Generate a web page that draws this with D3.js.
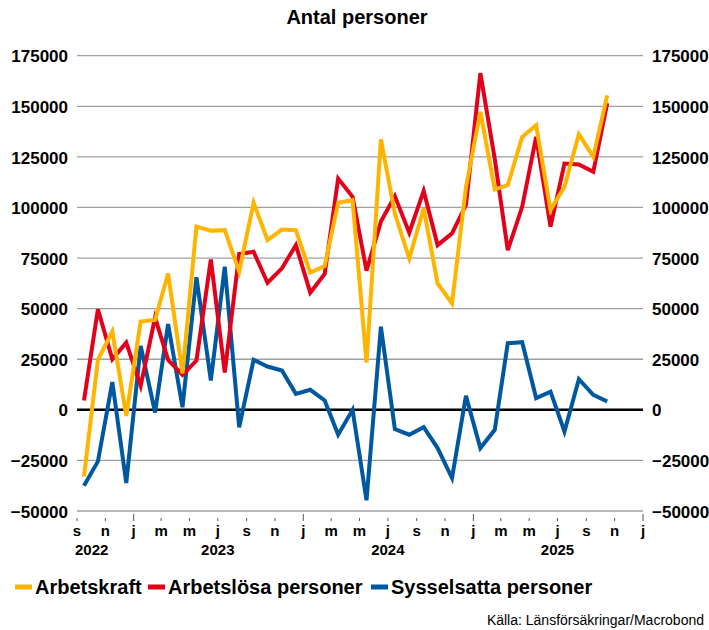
<!DOCTYPE html>
<html>
<head>
<meta charset="utf-8">
<script src="https://cdn.jsdelivr.net/npm/d3@7"></script>
<style>
  body { margin: 0; background: #fff; }
  svg { display: block; font-family: "Liberation Sans", Arial, sans-serif; }
  .tick-label { font-weight: bold; font-size: 17px; fill: #000; }
  .x-label { font-weight: bold; font-size: 15px; fill: #000; }
</style>
</head>
<body>
<svg width="709" height="630"></svg>
<script>
// Monthly change, Sep 2022 - Oct 2025
var firstMonth = [2022, 8];

var arbetskraft = [-33000, 24700, 38700, -3000, 43600, 44400, 67400, 18000, 90500, 88500,
  88800, 68300, 102300, 83900, 89100, 88800, 67800, 71000, 102300, 103600,
  23400, 133600, 97000, 74800, 99500, 62500, 52600, 110000, 147200, 108900,
  111000, 134900, 140600, 98700, 110200, 136200, 125000, 155400];

var arbetslosa = [4600, 49700, 25000, 33200, 11800, 45600, 24700, 17300, 24300, 74300,
  18400, 77000, 78100, 62800, 69900, 81400, 57900, 67100, 114300, 105300,
  68800, 93000, 105600, 87500, 108200, 81400, 87200, 101200, 166400, 124000,
  78900, 100300, 134900, 90500, 121700, 121200, 117600, 151600];

var sysselsatta = [-37500, -25500, 13700, -36200, 31600, -1300, 42400, 1300, 65500, 14500,
  70700, -8600, 24700, 21400, 19400, 7900, 9900, 4600, -12300, 0,
  -44700, 41100, -9500, -12300, -8600, -18900, -33700, 6900, -18900, -9900,
  32900, 33400, 5800, 9000, -10700, 15100, 7400, 4100];

var yTicks = [-50000, -25000, 0, 25000, 50000, 75000, 100000, 125000, 150000, 175000];
var monthLetters = ['j', 'f', 'm', 'a', 'm', 'j', 'j', 'a', 's', 'o', 'n', 'd'];
var years = [2022, 2023, 2024, 2025];

var seriesNames = ['Arbetskraft', 'Arbetslösa personer', 'Sysselsatta personer'];
var seriesColors = ['#ffb400', '#e2001a', '#0058a0'];

var svg = d3.select('svg');

var plot = {l: 77, r: 643, t: 55.7, b: 511};

var xScale = d3.scaleTime()
  .domain([new Date(2022, 8, 1), new Date(2026, 0, 1)])
  .range([plot.l, plot.r]);

var yScale = d3.scaleLinear()
  .domain([-50000, 175000])
  .range([plot.b, plot.t]);

// point sits in the middle of its month
function monthDate(i) {
  return new Date(firstMonth[0], firstMonth[1] + i, 16);
}

// Title
svg.append('text')
  .attr('x', 357)
  .attr('y', 24)
  .attr('text-anchor', 'middle')
  .style('font-weight', 'bold')
  .style('font-size', '20px')
  .text('Antal personer');

// Gridlines
svg.append('g')
  .selectAll('line')
  .data(yTicks)
  .enter()
  .append('line')
  .attr('x1', plot.l)
  .attr('x2', plot.r)
  .attr('y1', function (d) { return yScale(d); })
  .attr('y2', function (d) { return yScale(d); })
  .attr('stroke', function (d) { return d === 0 ? '#000' : '#a0a0a0'; })
  .attr('stroke-width', function (d) { return d === 0 ? 2.5 : 1.3; });

// Left and right axis labels
var leftAxis = d3.axisLeft(yScale).tickValues(yTicks).tickSize(0).tickPadding(9)
  .tickFormat(d3.format('d'));
var rightAxis = d3.axisRight(yScale).tickValues(yTicks).tickSize(0).tickPadding(9)
  .tickFormat(d3.format('d'));

svg.append('g')
  .attr('transform', 'translate(' + [plot.l, 0] + ')')
  .call(leftAxis)
  .call(function (g) { g.select('.domain').remove(); });
svg.append('g')
  .attr('transform', 'translate(' + [plot.r, 0] + ')')
  .call(rightAxis)
  .call(function (g) { g.select('.domain').remove(); });

svg.selectAll('.tick text')
  .attr('class', 'tick-label')
  .attr('dy', '0.36em');

// X axis: ticks every second month, longer at year starts
var xTickDates = d3.timeMonth.every(2).range(new Date(2022, 8, 1), new Date(2026, 0, 2));

var xAxisG = svg.append('g');
xAxisG.selectAll('line')
  .data(xTickDates)
  .enter()
  .append('line')
  .attr('x1', function (d) { return xScale(d); })
  .attr('x2', function (d) { return xScale(d); })
  .attr('y1', function (d) { return d.getMonth() === 0 ? 514 : 518; })
  .attr('y2', 521)
  .attr('stroke', '#555')
  .attr('stroke-width', 1);

xAxisG.selectAll('text')
  .data(xTickDates)
  .enter()
  .append('text')
  .attr('class', 'x-label')
  .attr('x', function (d) { return xScale(d); })
  .attr('y', 536)
  .attr('text-anchor', 'middle')
  .text(function (d) { return monthLetters[d.getMonth()]; });

xAxisG.selectAll('.year')
  .data(years)
  .enter()
  .append('text')
  .attr('class', 'x-label year')
  .attr('x', function (d) {
    var mid = xScale(new Date(d, 6, 1));
    return d === 2022 ? xScale.range()[0] - 2 : mid;
  })
  .attr('y', 555)
  .attr('text-anchor', function (d) { return d === 2022 ? 'start' : 'middle'; })
  .text(function (d) { return d; });

// Lines
var line = d3.line()
  .x(function (d, i) { return xScale(monthDate(i)); })
  .y(function (d) { return yScale(d); });

var seriesData = [arbetskraft, arbetslosa, sysselsatta];
var drawOrder = [2, 1, 0];

svg.append('g')
  .selectAll('path')
  .data(drawOrder)
  .enter()
  .append('path')
  .attr('d', function (k) { return line(seriesData[k]); })
  .attr('fill', 'none')
  .attr('stroke', function (k) { return seriesColors[k]; })
  .attr('stroke-width', 4)
  .attr('stroke-linejoin', 'miter');

// Legend
var legendX = [15, 148, 371];
var legend = svg.append('g')
  .selectAll('g')
  .data(seriesNames)
  .enter()
  .append('g')
  .attr('transform', function (d, i) { return 'translate(' + [legendX[i], 587] + ')'; });

legend.append('rect')
  .attr('x', 0)
  .attr('y', -2.5)
  .attr('width', 17)
  .attr('height', 5)
  .attr('fill', function (d, i) { return seriesColors[i]; });

legend.append('text')
  .attr('x', 20)
  .attr('y', 7)
  .style('font-weight', 'bold')
  .style('font-size', '20px')
  .text(function (d) { return d; });

// Source
svg.append('text')
  .attr('x', 704)
  .attr('y', 625)
  .attr('text-anchor', 'end')
  .style('font-size', '14px')
  .text('Källa: Länsförsäkringar/Macrobond');
</script>
</body>
</html>
